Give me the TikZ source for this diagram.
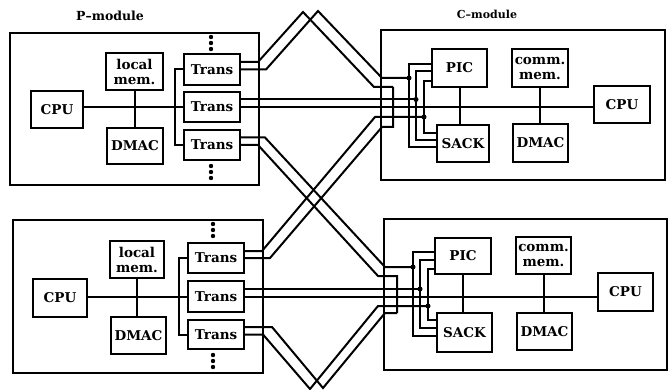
\documentclass[tikz,border=0pt]{standalone}
\usepackage{fontspec}
\setmainfont{DejaVu Serif}
\begin{document}
\begin{tikzpicture}[x=1pt,y=-1pt,
  box/.style={draw,line width=2pt,inner sep=0pt,align=center,
    font=\bfseries\fontsize{13.5}{15}\selectfont},
  frame/.style={draw,line width=2pt,inner sep=0pt},
  wire/.style={line width=2pt},
  lab/.style={font=\bfseries\fontsize{11}{12}\selectfont}]
\useasboundingbox (0,0) rectangle (669,390);

% ---------- module frames ----------
\node[frame,minimum width=249pt,minimum height=152pt] (pA) at (134.5,109) {};
\node[frame,minimum width=250pt,minimum height=153pt] (pB) at (138,296.5) {};
\node[frame,minimum width=284pt,minimum height=150pt] (cA) at (523,105) {};
\node[frame,minimum width=283pt,minimum height=151pt] (cB) at (525.5,294.5) {};

\node[lab,font=\bfseries\fontsize{12.5}{13}\selectfont] (plab) at (110,16) {P–module};
\node[lab] (clab) at (487,14) {C–module};

% ---------- top P-module ----------
\node[box,minimum width=57pt,minimum height=37pt] (lmemA) at (134.5,71.5) {local\\mem.};
\node[box,minimum width=52pt,minimum height=37pt] (cpuPA) at (57,109.5) {CPU};
\node[box,minimum width=56pt,minimum height=36pt] (dmacPA) at (135,146) {DMAC};
\node[box,minimum width=56pt,minimum height=31pt] (tA1) at (212,69.5) {Trans};
\node[box,minimum width=56pt,minimum height=30pt] (tA2) at (212,107) {Trans};
\node[box,minimum width=56pt,minimum height=30pt] (tA3) at (212,145) {Trans};

\draw[wire] (cpuPA.east |- tA2.west) -- (tA2.west);
\draw[wire] (lmemA.south) -- (lmemA.south |- dmacPA.north);
\draw[wire] (tA1.west) -- ++(-8,0) |- (tA3.west);
\foreach \y in {37,43,49,166,172,178} \fill (211,\y) circle (2.2pt);

% ---------- bottom P-module ----------
\node[box,minimum width=54pt,minimum height=37pt] (lmemB) at (137,259.5) {local\\mem.};
\node[box,minimum width=54pt,minimum height=38pt] (cpuPB) at (60,298) {CPU};
\node[box,minimum width=55pt,minimum height=37pt] (dmacPB) at (138.5,335.5) {DMAC};
\node[box,minimum width=56pt,minimum height=30pt] (tB1) at (216,258) {Trans};
\node[box,minimum width=56pt,minimum height=31pt] (tB2) at (216,296.5) {Trans};
\node[box,minimum width=56pt,minimum height=29pt] (tB3) at (216,334.5) {Trans};

\draw[wire] (cpuPB.east |- tB2.west) -- (tB2.west);
\draw[wire] (lmemB.south) -- (lmemB.south |- dmacPB.north);
\draw[wire] (tB1.west) -- ++(-8,0) |- (tB3.west);
\foreach \y in {224,230,236,355,361,367} \fill (213,\y) circle (2.2pt);

% ---------- top C-module ----------
\node[box,minimum width=55pt,minimum height=38pt] (picA) at (459.5,68) {PIC};
\node[box,minimum width=56pt,minimum height=38pt] (commA) at (540,68) {comm.\\mem.};
\node[box,minimum width=56pt,minimum height=37pt] (cpuCA) at (622,104.5) {CPU};
\node[box,minimum width=52pt,minimum height=37pt] (sackA) at (463,143.5) {SACK};
\node[box,minimum width=55pt,minimum height=38pt] (dmacCA) at (540.5,143) {DMAC};

\draw[wire] (picA.south) -- (picA.south |- sackA.north);
\draw[wire] (commA.south) -- (commA.south |- dmacCA.north);
\draw[wire] (picA.west |- 0,64) -- (409,64) -- (409,147) -- (sackA.west |- 0,147);
\draw[wire] (picA.west |- 0,71.5) -- (416,71.5) -- (416,140) -- (sackA.west |- 0,140);
\draw[wire] (picA.west |- 0,81) -- (424,81) -- (424,133) -- (sackA.west |- 0,133);

% ---------- bottom C-module ----------
\node[box,minimum width=56pt,minimum height=36pt] (picB) at (463,256) {PIC};
\node[box,minimum width=55pt,minimum height=37pt] (commB) at (543.5,255.5) {comm.\\mem.};
\node[box,minimum width=55pt,minimum height=38pt] (cpuCB) at (625.5,292) {CPU};
\node[box,minimum width=55pt,minimum height=39pt] (sackB) at (464.5,332.5) {SACK};
\node[box,minimum width=55pt,minimum height=37pt] (dmacCB) at (544.5,331.5) {DMAC};

\draw[wire] (picB.south) -- (picB.south |- sackB.north);
\draw[wire] (commB.south) -- (commB.south |- dmacCB.north);
\draw[wire] (picB.west |- 0,252) -- (413,252) -- (413,336) -- (sackB.west |- 0,336);
\draw[wire] (picB.west |- 0,260) -- (420,260) -- (420,328) -- (sackB.west |- 0,328);
\draw[wire] (picB.west |- 0,269) -- (428,269) -- (428,320) -- (sackB.west |- 0,320);

% ---------- junction points ----------
\coordinate (dA1) at (409,78);
\coordinate (dA2) at (416,99.5);
\coordinate (dA3) at (424,117);
\coordinate (dB1) at (413,267);
\coordinate (dB2) at (420,289);
\coordinate (dB3) at (428,306);

% ---------- links: top Trans1 (upper chevron) ----------
\draw[wire] ([yshift=7.5pt]tA1.east) -- (258,62) -- (303,12) -- (374,87) -- (393,87);
\draw[wire] (tA1.east) -- (266,69.5) -- (318,11) -- (382,78) -- (dA1);
% top Trans2 (straight)
\draw[wire] ([yshift=7.5pt]tA2.east) -- (dA2);
\draw[wire] (tA2.east) -- (cpuCA.west |- tA2.east);
% top Trans3 (down to bottom C)
\draw[wire] ([yshift=7.5pt]tA3.east) -- (265,137.5) -- (385,267) -- (dB1);
\draw[wire] (tA3.east) -- (258,145) -- (378,276) -- (397,276) -- (397,313);
% bottom Trans1 (up to top C)
\draw[wire] ([yshift=7pt]tB1.east) -- (262,251) -- (375,117) -- (dA3);
\draw[wire] (tB1.east) -- (270,258) -- (382,127) -- (393,127) -- (393,87);
% bottom Trans2 (straight)
\draw[wire] ([yshift=7.5pt]tB2.east) -- (dB2);
\draw[wire] (tB2.east) -- (cpuCB.west |- tB2.east);
% bottom Trans3 (lower chevron)
\draw[wire] ([yshift=7.5pt]tB3.east) -- (272,327) -- (323,388) -- (385,313) -- (397,313);
\draw[wire] (tB3.east) -- (263,334.5) -- (310,389) -- (378,306) -- (dB3);

\foreach \p in {dA1,dA2,dA3,dB1,dB2,dB3} \fill (\p) circle (2.5pt);
\end{tikzpicture}
\end{document}
